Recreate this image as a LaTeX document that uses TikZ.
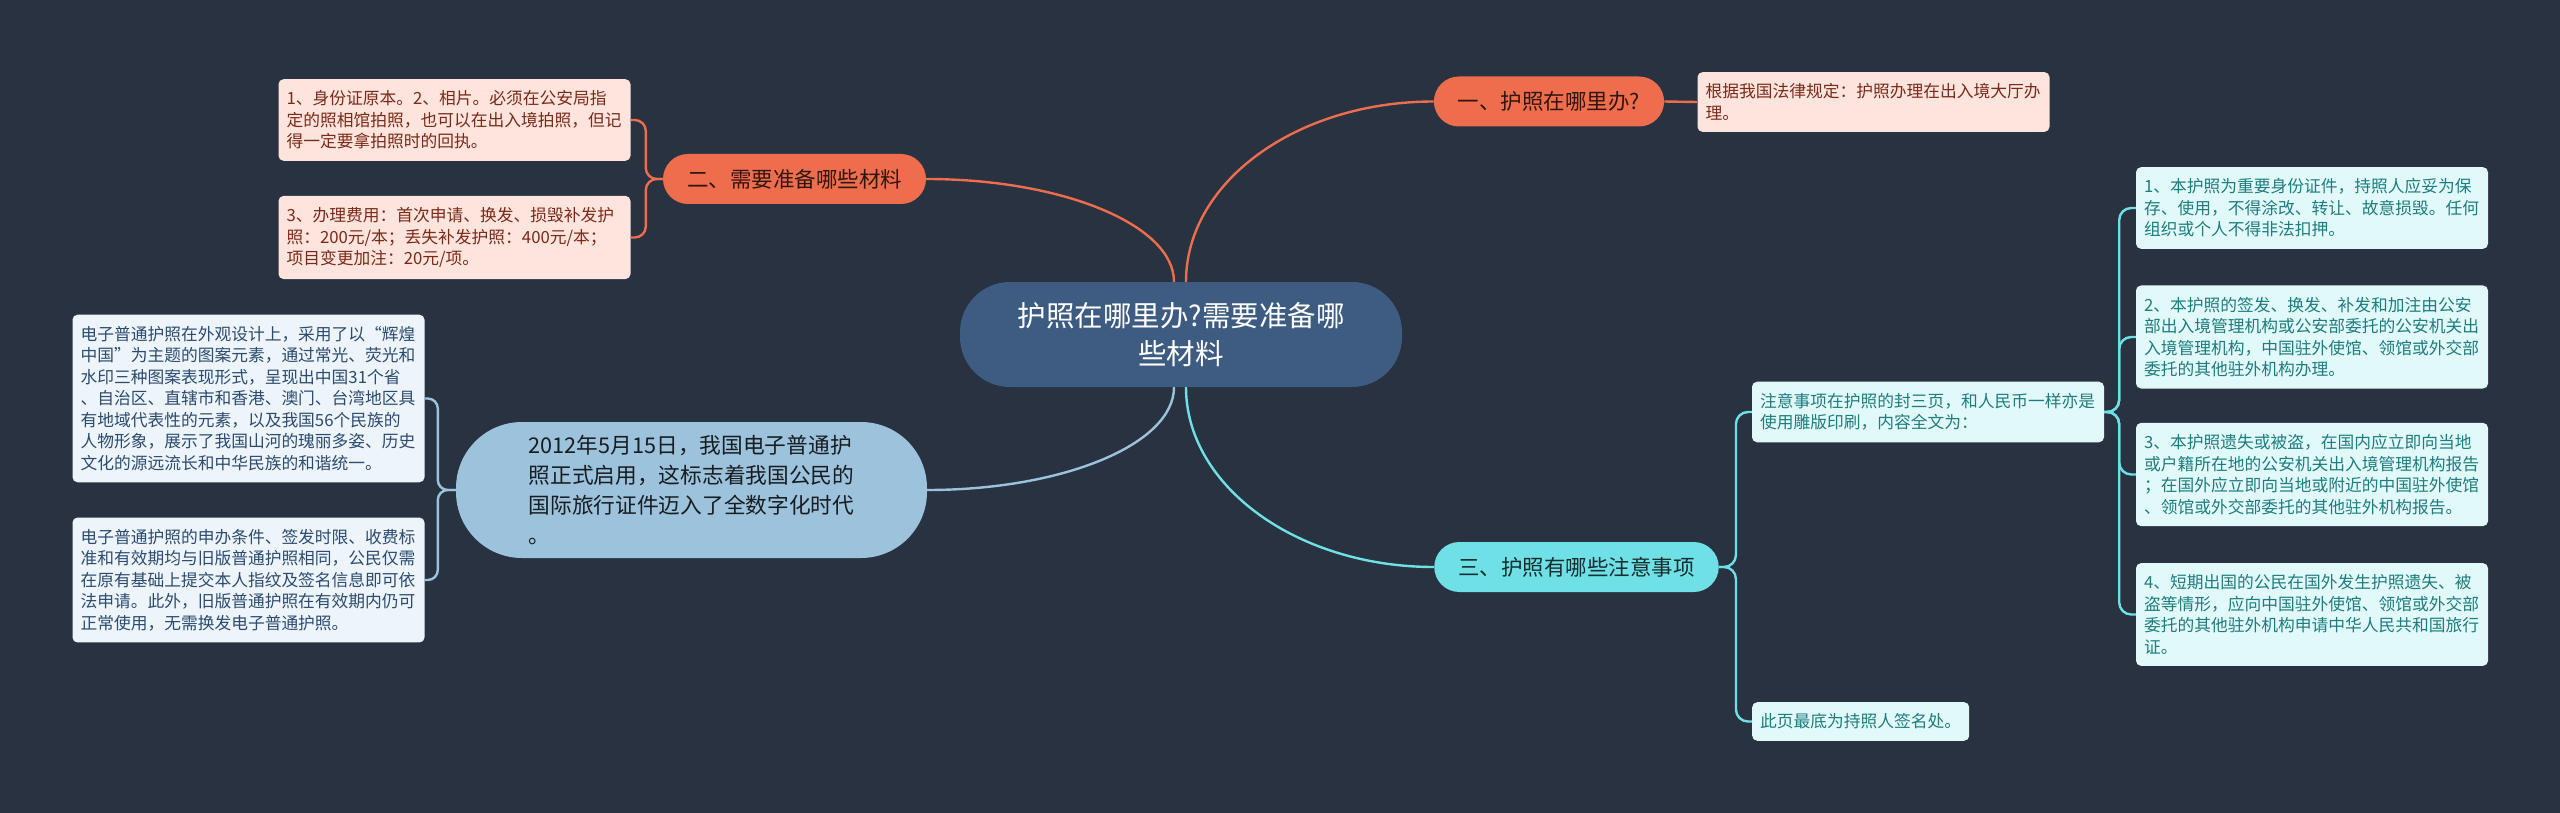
\documentclass[tikz,border=0pt]{standalone}
\usepackage{fontspec}
\setmainfont{Noto Sans CJK SC}
\usetikzlibrary{calc}

\definecolor{bgdark}{HTML}{283240}
\definecolor{rootfill}{HTML}{3E5C82}
\definecolor{orangefill}{HTML}{EE6D4D}
\definecolor{orangepale}{HTML}{FDE4DD}
\definecolor{orangeink}{HTML}{7A2A1A}
\definecolor{bluefill}{HTML}{9CC2DC}
\definecolor{bluepale}{HTML}{EDF4FA}
\definecolor{blueink}{HTML}{2C4B6E}
\definecolor{cyanfill}{HTML}{6FE0E6}
\definecolor{cyanpale}{HTML}{E2F9F9}
\definecolor{cyanink}{HTML}{1E7C7E}

\tikzset{
  rootbox/.style={fill=rootfill, text=white, rounded corners=50pt, minimum width=442pt,
    minimum height=105pt, align=center, font=\fontsize{28.5}{38}\selectfont},
  branchbox/.style={rounded corners=25pt, minimum height=50pt, inner xsep=24pt, inner ysep=0pt,
    font=\fontsize{21.5}{28}\selectfont},
  leafbox/.style={rounded corners=5pt, inner xsep=8pt, inner ysep=11.5pt, align=left,
    font=\fontsize{16.75}{21.5}\selectfont},
  wideleaf/.style={leafbox, text width=336pt},
  link/.style={line width=2.4pt},
}

\begin{document}
\begin{tikzpicture}[x=1pt,y=-1pt]
  % Canvas
  \useasboundingbox (0,0) rectangle (2560,813);
  \fill[bgdark] (0,0) rectangle (2560,813);
  % Coordinates
  \coordinate (R) at (1181,334.5);
  \coordinate (B1) at (1549,101.5);
  \coordinate (B2) at (794.5,179);
  \coordinate (B3) at (691.5,490);
  \coordinate (B4) at (1576.5,567);
  % Central topic
  \node[rootbox] (root) at (R) {护照在哪里办?需要准备哪\\些材料};
  % Branches
  \node[branchbox, fill=orangefill, text=black!80!orangefill] (one) at (B1) {一、护照在哪里办?};
  \node[branchbox, fill=orangefill, text=black!80!orangefill] (two) at (B2) {二、需要准备哪些材料};
  \node[fill=bluefill, text=black!85!bluefill, rounded corners=66pt, minimum width=471pt,
    minimum height=136pt, align=left, font=\fontsize{21.7}{30}\selectfont] (news) at (B3)
    {2012年5月15日，我国电子普通护\\照正式启用，这标志着我国公民的\\国际旅行证件迈入了全数字化时代\\。};
  \node[branchbox, fill=cyanfill, text=black!80!cyanfill] (three) at (B4) {三、护照有哪些注意事项};
  % Leaves
  \node[wideleaf, fill=orangepale, text=orangeink] (where) at (1873.5,102)
    {根据我国法律规定：护照办理在出入境大厅办\\理。};
  \node[wideleaf, fill=orangepale, text=orangeink] (matA) at (454.5,120)
    {1、身份证原本。2、相片。必须在公安局指\\定的照相馆拍照，也可以在出入境拍照，但记\\得一定要拿拍照时的回执。};
  \node[wideleaf, fill=orangepale, text=orangeink] (matB) at (454.5,237.5)
    {3、办理费用：首次申请、换发、损毁补发护\\照：200元/本；丢失补发护照：400元/本；\\项目变更加注：20元/项。};
  \node[wideleaf, fill=bluepale, text=blueink] (newsA) at (248.5,398.5)
    {电子普通护照在外观设计上，采用了以“辉煌\\中国”为主题的图案元素，通过常光、荧光和\\水印三种图案表现形式，呈现出中国31个省\\、自治区、直辖市和香港、澳门、台湾地区具\\有地域代表性的元素，以及我国56个民族的\\人物形象，展示了我国山河的瑰丽多姿、历史\\文化的源远流长和中华民族的和谐统一。};
  \node[wideleaf, fill=bluepale, text=blueink] (newsB) at (248.5,580)
    {电子普通护照的申办条件、签发时限、收费标\\准和有效期均与旧版普通护照相同，公民仅需\\在原有基础上提交本人指纹及签名信息即可依\\法申请。此外，旧版普通护照在有效期内仍可\\正常使用，无需换发电子普通护照。};
  \node[wideleaf, fill=cyanpale, text=cyanink] (care) at (1928,412)
    {注意事项在护照的封三页，和人民币一样亦是\\使用雕版印刷，内容全文为：};
  \node[leafbox, fill=cyanpale, text=cyanink, anchor=west] (sign) at (1752,721.5)
    {此页最底为持照人签名处。};
  \node[wideleaf, fill=cyanpale, text=cyanink] (rule1) at (2312,208)
    {1、本护照为重要身份证件，持照人应妥为保\\存、使用，不得涂改、转让、故意损毁。任何\\组织或个人不得非法扣押。};
  \node[wideleaf, fill=cyanpale, text=cyanink] (rule2) at (2312,337)
    {2、本护照的签发、换发、补发和加注由公安\\部出入境管理机构或公安部委托的公安机关出\\入境管理机构，中国驻外使馆、领馆或外交部\\委托的其他驻外机构办理。};
  \node[wideleaf, fill=cyanpale, text=cyanink] (rule3) at (2312,474.5)
    {3、本护照遗失或被盗，在国内应立即向当地\\或户籍所在地的公安机关出入境管理机构报告\\；在国外应立即向当地或附近的中国驻外使馆\\、领馆或外交部委托的其他驻外机构报告。};
  \node[wideleaf, fill=cyanpale, text=cyanink] (rule4) at (2312,614.5)
    {4、短期出国的公民在国外发生护照遗失、被\\盗等情形，应向中国驻外使馆、领馆或外交部\\委托的其他驻外机构申请中华人民共和国旅行\\证。};
  % Main curves
  \draw[link, orangefill] ($(root.north)+(5,0)$) .. controls +(0,-100) and +(-137,0) .. (one.west);
  \draw[link, orangefill] ($(root.north)+(-7,0)$) .. controls +(0,-57) and +(136,0) .. (two.east);
  \draw[link, bluefill] ($(root.south)+(-7,0)$) .. controls +(0,57) and +(136,0) .. (news.east);
  \draw[link, cyanfill] ($(root.south)+(5,0)$) .. controls +(0,99) and +(-137,0) .. (three.west);
  % Brackets
  \draw[link, orangefill] (one.east) -- (where.west);
  \foreach \L in {matA, matB} {
      \draw[link, orangefill, rounded corners=11pt] (two.west) -- ++(-17,0) |- (\L.east);
    }
  \foreach \L in {newsA, newsB} {
      \draw[link, bluefill, rounded corners=10pt] (news.west) -- ++(-18,0) |- (\L.east);
    }
  \foreach \L in {care, sign} {
      \draw[link, cyanfill, rounded corners=12pt] (three.east) -- ++(17,0) |- (\L.west);
    }
  \foreach \L in {rule1, rule2, rule3, rule4} {
      \draw[link, cyanfill, rounded corners=12pt] (care.east) -- ++(15,0) |- (\L.west);
    }
\end{tikzpicture}
\end{document}
